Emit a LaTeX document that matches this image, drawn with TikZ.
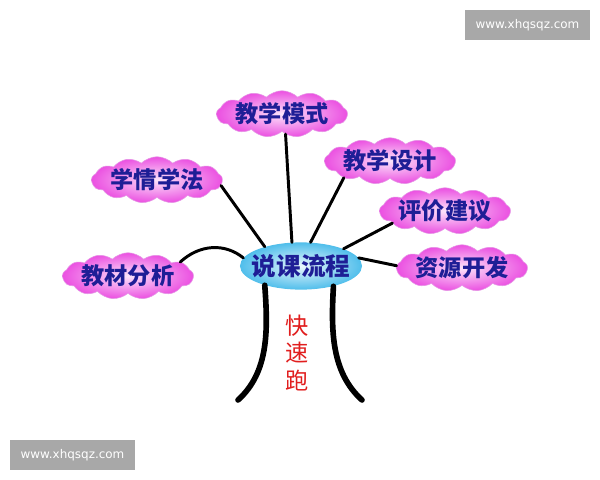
\documentclass[tikz,border=0pt]{standalone}
\usepackage{fontspec}
\newfontfamily\cjk{Noto Sans CJK SC}
\setsansfont{DejaVu Sans}
\usetikzlibrary{shapes.symbols,shapes.geometric}

\definecolor{wordblue}{RGB}{30,30,150}
\definecolor{puffpink}{RGB}{235,80,225}
\definecolor{puffedge}{RGB}{230,150,230}
\definecolor{lakeblue}{RGB}{80,190,235}
\definecolor{runred}{RGB}{225,30,30}
\definecolor{stampgray}{RGB}{168,168,168}

\begin{document}
\begin{tikzpicture}[x=0.025cm, y=-0.025cm,
    puff/.style={cloud, cloud puffs=13, cloud puff arc=90, aspect=3.8,
        draw=puffedge, thin, shade, inner color=white!85!puffpink, outer color=puffpink,
        minimum width=3.25cm, minimum height=0.85cm, inner sep=0pt,
        font=\cjk\bfseries\fontsize{16.5}{19}\selectfont, text=wordblue},
    lake/.style={ellipse, shade, inner color=white!88!lakeblue, outer color=lakeblue,
        minimum width=3.05cm, minimum height=1.18cm, inner xsep=-10pt, inner ysep=0pt,
        font=\cjk\bfseries\fontsize{17.5}{20}\selectfont, text=wordblue},
    branch/.style={line width=2.1pt, line cap=round},
    trunk/.style={line width=4pt, line cap=round},
    stampbox/.style={fill=stampgray, text=white, inner sep=0pt,
        minimum width=3.125cm, minimum height=0.75cm,
        font=\sffamily\fontsize{8.5}{10}\selectfont}]
        \useasboundingbox[fill=white] (0,0) rectangle (600,480);

        \node[stampbox] (stamp1) at (527.5,25) {www.xhqsqz.com};
        \node[stampbox] (stamp2) at (72.5,455) {www.xhqsqz.com};

        \node[puff] (moshi) at (282,114) {教学模式};
        \node[puff] (xueqing) at (157,180) {学情学法};
        \node[puff] (jiaocai) at (128,276) {教材分析};
        \node[puff] (sheji) at (390,161) {教学设计};
        \node[puff] (pingjia) at (445,211) {评价建议};
        \node[puff] (ziyuan) at (462,268) {资源开发};
        \node[lake] (shuoke) at (301,266) {说课流程};

        \node[text=runred, align=center, font=\cjk\fontsize{16.5}{19.5}\selectfont] (run) at (297,353) {快\\速\\跑};

        \coordinate (leftfoot) at (238,400);
        \coordinate (rightfoot) at (362,400);

        \draw[branch] (moshi.-80) -- (shuoke.111);
        \draw[branch] (xueqing.-5) -- (shuoke.152);
        \draw[branch] (sheji.200) -- (shuoke.68);
        \draw[branch] (pingjia.193) -- (shuoke.22);
        \draw[branch] (ziyuan.178) -- (shuoke.8);
        \draw[branch] (jiaocai.15) .. controls (200,244) and (225,243) .. (shuoke.172);

        \draw[trunk] (shuoke.208) .. controls (268,330) and (269,372) .. (leftfoot);
        \draw[trunk] (shuoke.328) .. controls (331,330) and (331,372) .. (rightfoot);
    \end{tikzpicture}
\end{document}
